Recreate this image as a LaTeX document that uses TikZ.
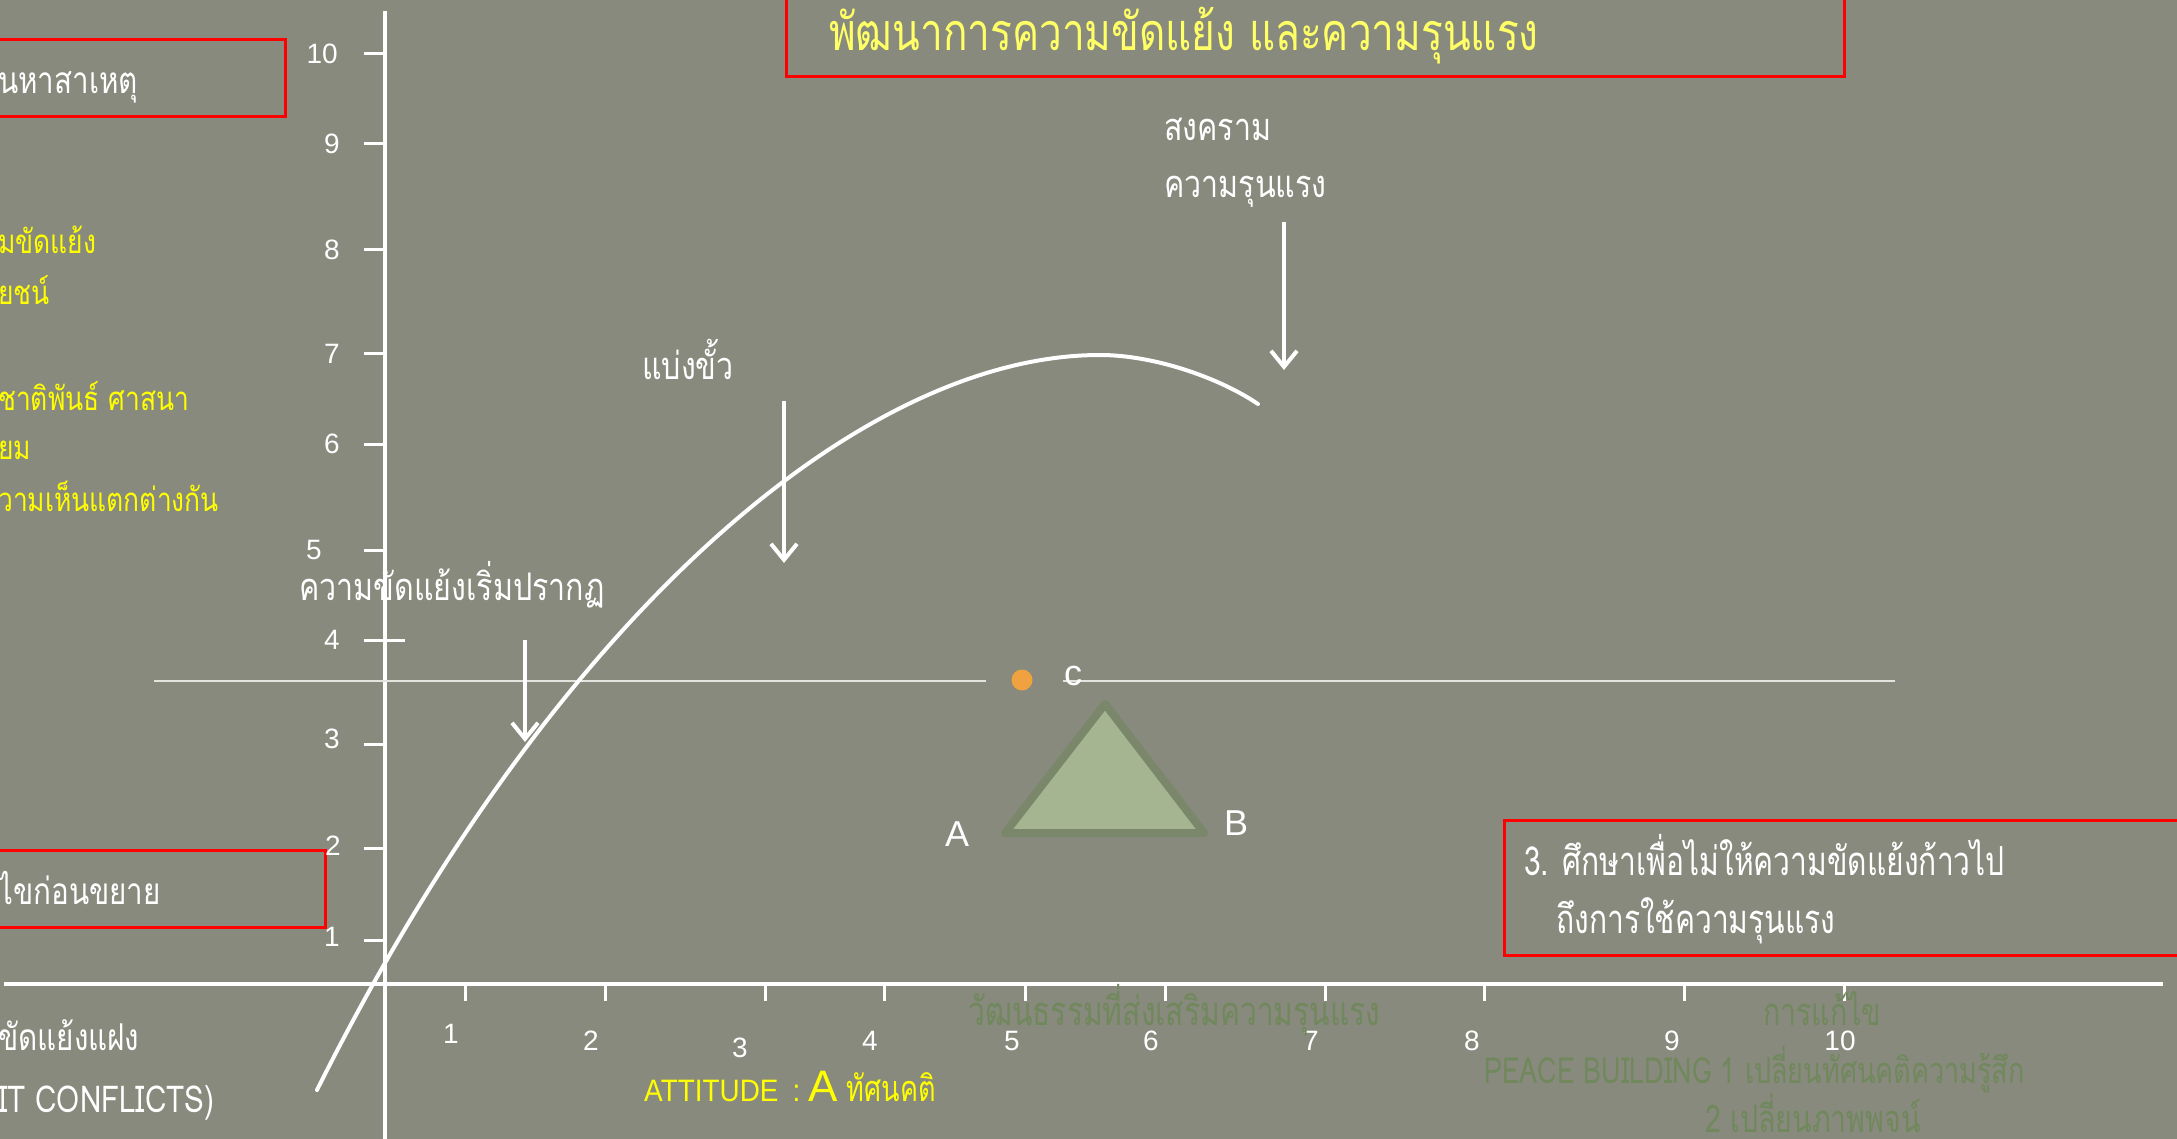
\documentclass[tikz,border=0pt]{standalone}
\usepackage{fontspec}
\setmainfont{Liberation Sans}
\newfontfamily\thaifont[Script=Thai]{Loma}
\newfontfamily\thaimid[Script=Thai,FakeStretch=0.8]{Loma}
\newfontfamily\thaicond[Script=Thai,FakeStretch=0.75]{Loma}
\newfontfamily\thaititle[Script=Thai,FakeStretch=0.78]{Loma}
\newfontfamily\narrowsans[FakeStretch=0.9]{Liberation Sans}
\usetikzlibrary{arrows.meta}
\definecolor{bgc}{RGB}{135,138,125}
\definecolor{titleyel}{RGB}{255,255,102}
\definecolor{yel}{RGB}{255,255,0}
\definecolor{faint}{RGB}{112,136,92}
\definecolor{trifill}{RGB}{165,181,146}
\definecolor{tridraw}{RGB}{122,135,106}
\definecolor{dotc}{RGB}{240,162,64}
\definecolor{hline}{RGB}{228,228,222}
\begin{document}
\begin{tikzpicture}[x=1pt,y=-1pt,
  every node/.style={inner sep=0pt},
  wlbl/.style={text=white, anchor=base west, font=\thaimid\fontsize{38}{44}\selectfont},
  ylbl/.style={text=yel, anchor=base west, font=\thaimid\fontsize{33}{39}\selectfont},
  boxtxt/.style={text=white, anchor=base west, font=\thaimid\fontsize{37}{43}\selectfont},
  condtxt/.style={text=white, anchor=base west, font=\thaicond\fontsize{40}{48}\selectfont},
  fainttxt/.style={text=faint, anchor=base west, font=\thaicond\fontsize{38}{46}\selectfont},
  ynum/.style={text=white, anchor=east, font=\fontsize{28}{32}\selectfont},
  xnum/.style={text=white, font=\fontsize{28}{32}\selectfont},
  vlbl/.style={text=white, font=\fontsize{36}{42}\selectfont},
  redbox/.style={draw=red, line width=3pt},
  axis/.style={draw=white, line width=4pt},
  tick/.style={draw=white, line width=3pt},
  arr/.style={draw=white, line width=4pt, -{Straight Barb[length=16pt,width=26pt]}},
  curve/.style={draw=white, line width=4pt, line cap=round},
  guide/.style={draw=hline, line width=2.5pt},
  tri/.style={fill=trifill, draw=tridraw, line width=8pt, line join=round}
]
\useasboundingbox (0,0) rectangle (2177,1139);
\fill[bgc] (0,0) rectangle (2177,1139);
\clip (0,0) rectangle (2177,1139);

% red boxes
\draw[redbox] (786,-10) rectangle (1844,77);
\draw[redbox] (-10,40) rectangle (285,117);
\draw[redbox] (-10,850) rectangle (325,927);
\draw[redbox] (1504,820) rectangle (2190,955);

% title
\node[anchor=base west, text=titleyel, font=\thaititle\fontsize{52}{60}\selectfont] (title) at (829,51) {พัฒนาการความขัดแย้ง และความรุนแรง};

% left texts
\node[boxtxt] (cause) at (-2,94) {นหาสาเหตุ};
\node[ylbl] (y1) at (-2,254) {มขัดแย้ง};
\node[ylbl] (y2) at (-2,305) {ยชน์};
\node[ylbl] (y3) at (-2,410) {ชาติพันธ์ ศาสนา};
\node[ylbl] (y4) at (-2,460) {ยม};
\node[ylbl] (y5) at (-2,511) {วามเห็นแตกต่างกัน};
\node[boxtxt] (solve) at (-2,904) {ไขก่อนขยาย};
\node[boxtxt] (latent) at (-2,1050) {ขัดแย้งแฝง};
\node[boxtxt] (latenten) at (-2,1112) {IT CONFLICTS)};

% axes
\draw[axis] (385,11) -- (385,1145);
\draw[axis] (4,984) -- (2163,984);

% y ticks and labels
\foreach \yy in {54,144,250,354,444,550,744,848,940}
  \draw[tick] (364,\yy) -- (385,\yy);
\draw[tick] (364,640) -- (405,640);
\node[ynum] (yn10) at (338,54) {10};
\node[ynum] (yn9) at (340,144) {9};
\node[ynum] (yn8) at (340,250) {8};
\node[ynum] (yn7) at (340,354) {7};
\node[ynum] (yn6) at (340,444) {6};
\node[ynum] (yn5) at (322,550) {5};
\node[ynum] (yn4) at (340,640) {4};
\node[ynum] (yn3) at (340,739) {3};
\node[ynum] (yn2) at (341,846) {2};
\node[ynum] (yn1) at (340,937) {1};

% x ticks and labels
\foreach \xx in {465,605,765,884,1025,1165,1325,1484,1684,1844}
  \draw[tick] (\xx,984) -- (\xx,1001);
\node[xnum] (xn1) at (451,1034) {1};
\node[xnum] (xn2) at (591,1041) {2};
\node[xnum] (xn3) at (740,1048) {3};
\node[xnum] (xn4) at (870,1041) {4};
\node[xnum] (xn5) at (1012,1041) {5};
\node[xnum] (xn6) at (1151,1041) {6};
\node[xnum] (xn7) at (1311,1041) {7};
\node[xnum] (xn8) at (1472,1041) {8};
\node[xnum] (xn9) at (1672,1041) {9};
\node[xnum] (xn10) at (1840,1041) {10};

% faint texts
\node[fainttxt, font=\thaicond\fontsize{40}{48}\selectfont] (culture) at (968,1025) {วัฒนธรรมที่ส่งเสริมความรุนแรง};
\node[fainttxt] (fix) at (1763,1025) {การแก้ไข};
\node[fainttxt, font=\thaicond\fontsize{36}{44}\selectfont] (peace1) at (1484,1083) {PEACE BUILDING 1 เปลี่ยนทัศนคติความรู้สึก};
\node[fainttxt] (peace2) at (1705,1132) {2 เปลี่ยนภาพพจน์};

% attitude label
\node[anchor=base west, text=yel] (att) at (644,1101)
  {{\narrowsans\fontsize{31}{36}\selectfont ATTITUDE\hspace{14pt}:\hspace{8pt}}{\fontsize{44}{50}\selectfont A}\hspace{9pt}{\thaicond\fontsize{36}{42}\selectfont ทัศนคติ}};

% guide line, dot
\draw[guide] (154,681) -- (986,681);
\draw[guide] (1063,681) -- (1895,681);
\node[circle, fill=dotc, minimum size=21pt] (dot) at (1022,680) {};
\node[vlbl] (lc) at (1073,676) {c};

% triangle
\coordinate (tA) at (1005,833);
\coordinate (tC) at (1105,704);
\coordinate (tB) at (1204,833);
\draw[tri] (tA) -- (tC) -- (tB) -- cycle;
\node[vlbl] (la) at (957,834) {A};
\node[vlbl] (lb) at (1236,823) {B};

% curve
\coordinate (cs) at (317,1090);
\coordinate (cp) at (1100,355);
\coordinate (ce) at (1258,404);
\draw[curve] (cs) .. controls (555,614) and (862,355) .. (cp)
                  .. controls (1153,355) and (1218,377) .. (ce);

% arrows
\coordinate (a1s) at (525,640); \coordinate (a1e) at (525,742);
\coordinate (a2s) at (784,401); \coordinate (a2e) at (784,563);
\coordinate (a3s) at (1284,222); \coordinate (a3e) at (1284,370);
\draw[arr] (a1s) -- (a1e);
\draw[arr] (a2s) -- (a2e);
\draw[arr] (a3s) -- (a3e);

% curve labels
\node[wlbl] (appear) at (299,600) {ความขัดแย้งเริ่มปรากฏ};
\node[wlbl] (polar) at (642,380) {แบ่งขั้ว};
\node[wlbl] (war) at (1164,141) {สงคราม};
\node[wlbl] (viol) at (1164,198) {ความรุนแรง};

% right box text
\node[condtxt] (r1) at (1524,875) {3. ศึกษาเพื่อไม่ให้ความขัดแย้งก้าวไป};
\node[condtxt] (r2) at (1556,933) {ถึงการใช้ความรุนแรง};
\end{tikzpicture}
\end{document}
